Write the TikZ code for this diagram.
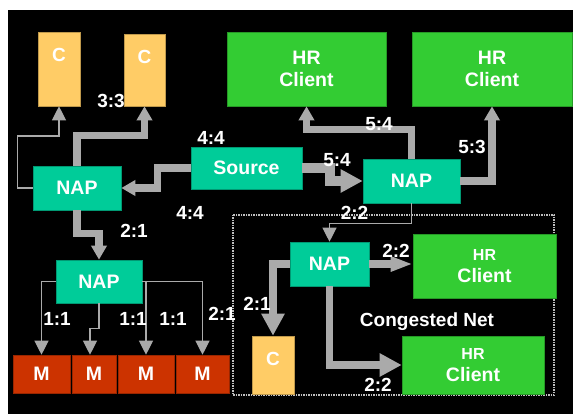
\documentclass[tikz,border=0pt]{standalone}
\usepackage{fontspec}
\setmainfont{Liberation Sans}
\usepackage{xcolor}
\usepackage{tikz}
\usetikzlibrary{arrows.meta}

\definecolor{capp}{RGB}{255,204,102}
\definecolor{client}{RGB}{51,204,51}
\definecolor{napc}{RGB}{0,204,153}
\definecolor{mred}{RGB}{204,51,0}
\definecolor{pipe}{RGB}{170,170,170}

\begin{document}
\begin{tikzpicture}[x=1pt,y=-1pt,
        box/.style={draw=#1!75!black,fill=#1,line width=0.6pt,inner sep=0pt,text=white,align=center,font=\fontsize{19.5}{22}\selectfont\bfseries},
        lbl/.style={text=white,inner sep=0pt,font=\fontsize{19}{22}\selectfont\bfseries},
        fat/.style={draw=pipe,line width=7.5pt,-{Triangle[length=14pt,width=15pt]}},
        fatter/.style={fat,-{Triangle[length=22pt,width=22pt]}},
        slim/.style={draw=pipe,line width=1.2pt,-{Triangle[length=14pt,width=14pt]}}]
        \useasboundingbox (0,0) rectangle (573,414);
        \fill[white] (0,0) rectangle (573,414);
        \fill[black] (8,10) rectangle (573,414);

        % top row
        \node[box=capp,minimum width=42pt,minimum height=74pt,label={[lbl,anchor=center,yshift=-23pt]north:C}] (c1) at (59,69) {};
        \node[box=capp,minimum width=41pt,minimum height=72pt,label={[lbl,anchor=center,yshift=-23pt]north:C}] (c2) at (144.5,70) {};
        \node[box=client,minimum width=159pt,minimum height=74pt] (hr1) at (306.5,69) {HR\\Client};
        \node[box=client,minimum width=160pt,minimum height=74pt] (hr2) at (492,69) {HR\\Client};

        % middle
        \node[box=napc,minimum width=88pt,minimum height=44pt] (nap1) at (77,188) {NAP};
        \node[box=napc,minimum width=111pt,minimum height=42pt] (src) at (246.5,168) {Source};
        \node[box=napc,minimum width=97pt,minimum height=44pt] (nap2) at (411.5,181) {NAP};
        \node[box=napc,minimum width=86pt,minimum height=43pt] (nap3) at (99,281.5) {NAP};

        % bottom row
        \node[box=mred,minimum width=57pt,minimum height=38pt] (m1) at (41.5,374) {M};
        \node[box=mred,minimum width=44pt,minimum height=38pt] (m2) at (94,374) {M};
        \node[box=mred,minimum width=56pt,minimum height=38pt] (m3) at (146,374) {M};
        \node[box=mred,minimum width=53pt,minimum height=38pt] (m4) at (202.5,374) {M};

        % congested net
        \draw[white!75!black,line width=1.5pt,densely dotted] (233,215) rectangle (554,395);
        \node[box=napc,minimum width=79pt,minimum height=44pt] (nap4) at (329.5,264) {NAP};
        \node[box=client,minimum width=143pt,minimum height=64pt] (hr3) at (484.5,266) {{\fontsize{16}{20}\selectfont HR}\\Client};
        \node[box=client,minimum width=142pt,minimum height=58pt] (hr4) at (473,365) {{\fontsize{16}{20}\selectfont HR}\\Client};
        \node[box=capp,minimum width=42pt,minimum height=58pt,label={[lbl,anchor=center,yshift=-23pt]north:C}] (c3) at (273,365) {};
        \node[lbl] (cong) at (427,322) {Congested Net};

        % flows
        \draw[slim] (nap1.west) -- ++(-15,0) -- ++(0,-52) -| (c1.south);
        \draw[fat] (nap1.north) -- ++(0,-30) -| (c2.south);
        \draw[fat] (src.west) -- ++(-33,0) |- (nap1.east);
        \draw[fatter,line width=10pt] (src.east) -- ++(28,0) |- (nap2.west);
        \draw[fat] (nap2.north) -- ++(0,-29) -| (hr1.south);
        \draw[fat] (nap2.east) -| (hr2.south);
        \draw[slim] (nap2.south) -- ++(0,20) -| (nap4.north);
        \draw[fat] (nap1.south) -- ++(0,23) -| (nap3.north);
        \draw[slim] (nap3.west) -| (m1.north);
        \draw[slim] (nap3.south) -- ++(0,25) -| ([xshift=-4pt]m2.north);
        \draw[slim] (nap3.east) -| (m3.north);
        \draw[slim] (nap3.east) -| (m4.north);
        \draw[fat,-{Triangle[length=22pt,width=14pt]}] (nap4.east) -- (nap4.east -| hr3.west);
        \draw[fatter] (nap4.west) -| (c3.north);
        \draw[fatter] (nap4.south) |- (hr4.west);

        % ratios
        \node[lbl] (r33) at (111,101) {3:3};
        \node[lbl] (r44a) at (211,138) {4:4};
        \node[lbl] (r44b) at (190,213) {4:4};
        \node[lbl] (r54a) at (379,124) {5:4};
        \node[lbl] (r54b) at (337,160) {5:4};
        \node[lbl] (r53) at (472,147) {5:3};
        \node[lbl] (r22a) at (354.5,213) {2:2};
        \node[lbl] (r21a) at (134,231) {2:1};
        \node[lbl] (r11a) at (57,319) {1:1};
        \node[lbl] (r11b) at (133,319) {1:1};
        \node[lbl] (r11c) at (173,319) {1:1};
        \node[lbl] (r21b) at (222,314) {2:1};
        \node[lbl] (r21c) at (257,304) {2:1};
        \node[lbl] (r22b) at (396,251) {2:2};
        \node[lbl] (r22c) at (378,385) {2:2};
\end{tikzpicture}
\end{document}
